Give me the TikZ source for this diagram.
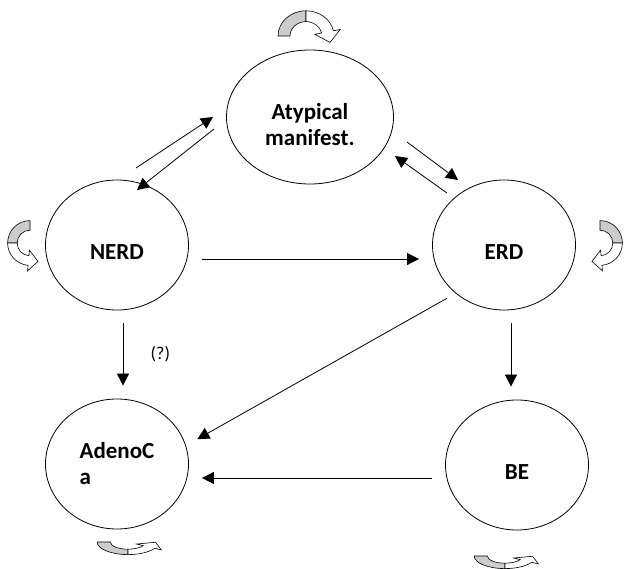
\documentclass[tikz,border=0pt]{standalone}
\usepackage{fontspec}
\setmainfont{Carlito}
\usepackage{tikz}
\usetikzlibrary{arrows.meta,positioning,shapes.geometric}

% curved block arrow: #1 placement, #2 angle where the band ends
\newcommand{\turnarrow}[2]{%
\begin{scope}[#1]
\filldraw[fill=gray!40,line width=0.6pt] (180:28) arc[start angle=180,end angle=90,radius=28] -- (90:16) arc[start angle=90,end angle=180,radius=16] -- cycle;
\filldraw[fill=white,line width=0.6pt] (90:28) arc[start angle=90,end angle=#2,radius=28] -- (#2:35) -- (#2-28.6:25.1) -- (#2:9) -- (#2:16) arc[start angle=#2,end angle=90,radius=16] -- cycle;
\end{scope}}

\begin{document}
\begin{tikzpicture}[x=1pt,y=-1pt, stage/.style={ellipse,draw,line width=0.8pt,inner sep=0pt,minimum width=143pt,minimum height=130pt,align=center,font=\fontsize{23}{26}\selectfont\bfseries}, low/.style={text height=#1,text depth=0pt}, arr/.style={-{Triangle[length=12pt,width=12pt]},line width=0.8pt}]
\useasboundingbox (0,0) rectangle (627,569);
\node[stage,low=57pt,minimum width=167pt,minimum height=134pt] (atyp) at (310,117) {Atypical\\manifest.};
\node[stage,low=29pt] (nerd) at (117,245) {NERD};
\node[stage,low=29pt] (erd) at (504,245) {ERD};
\node[stage,align=left] (adeno) at (117,464) {AdenoC\\a};
\node[stage,low=29pt] (be) at (517,465) {BE};
% the two-way pairs
\draw[arr] ([shift={(19,-77)}]nerd.center) -- ([shift={(-97,0)}]atyp.center);
\draw[arr] ([shift={(-96,12)}]atyp.center) -- ([shift={(20,-55)}]nerd.center);
\draw[arr] ([shift={(97,25)}]atyp.center) -- ([shift={(-46,-65)}]erd.center);
\draw[arr] ([shift={(-57,-52)}]erd.center) -- ([shift={(85,39)}]atyp.center);
% one-way arrows
\draw[arr,shorten <=13pt,shorten >=13pt] ([yshift=-14pt]nerd.east) -- ([yshift=-14pt]erd.west);
\draw[arr,shorten <=13pt,shorten >=13pt] ([xshift=6pt]nerd.south) -- node[right=24pt,font=\fontsize{18}{20}\selectfont]{(?)} ([xshift=6pt]adeno.north);
\draw[arr,shorten <=13pt,shorten >=13pt] ([xshift=7pt]erd.south) -- ([xshift=-6pt]be.north);
\draw[arr,shorten <=10pt,shorten >=13pt] (erd.225) -- (adeno.15);
\draw[arr,shorten <=13pt,shorten >=13pt] ([yshift=-13pt]be.west) -- ([yshift=-14pt]adeno.east);
% curved arrows round the states
\turnarrow{shift={(306,36)},yscale=-0.9}{12}
\turnarrow{shift={(30,243)},rotate=90,xscale=-1,scale=0.8,yscale=-1}{5}
\turnarrow{shift={(600,243)},rotate=-90,scale=0.8,yscale=-1}{5}
\turnarrow{shift={(128,542)},xscale=1.1,yscale=0.45}{30}
\turnarrow{shift={(505,556)},xscale=1.1,yscale=0.45}{30}
\end{tikzpicture}
\end{document}
